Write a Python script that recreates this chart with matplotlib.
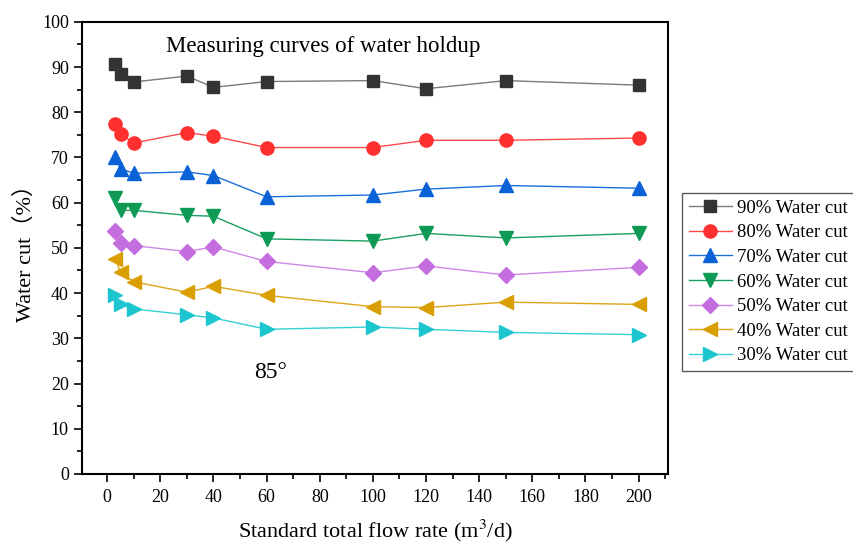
import matplotlib
matplotlib.use("Agg")
import matplotlib.pyplot as plt
from matplotlib.ticker import MultipleLocator

# Data

flow_rate = [3, 5, 10, 30, 40, 60, 100, 120, 150, 200]

cut_90 = [90.7, 88.5, 86.7, 88.0, 85.5, 86.8, 87.0, 85.2, 87.0, 86.0]
cut_80 = [77.3, 75.2, 73.2, 75.5, 74.7, 72.2, 72.2, 73.8, 73.8, 74.3]
cut_70 = [70.0, 67.5, 66.5, 66.8, 66.0, 61.3, 61.7, 63.0, 63.8, 63.2]
cut_60 = [61.0, 58.3, 58.3, 57.2, 57.0, 52.0, 51.5, 53.2, 52.2, 53.2]
cut_50 = [53.8, 51.0, 50.5, 49.2, 50.2, 47.0, 44.5, 46.0, 44.0, 45.7]
cut_40 = [47.5, 44.7, 42.5, 40.2, 41.5, 39.5, 37.0, 36.8, 38.0, 37.5]
cut_30 = [39.5, 37.5, 36.5, 35.2, 34.5, 32.0, 32.5, 32.0, 31.3, 30.8]

labels = ["90% Water cut", "80% Water cut", "70% Water cut", "60% Water cut",
          "50% Water cut", "40% Water cut", "30% Water cut"]

# Style

plt.rcParams["font.family"] = ["Liberation Serif", "Noto Sans CJK SC"]
plt.rcParams["mathtext.fontset"] = "stix"

series = [cut_90, cut_80, cut_70, cut_60, cut_50, cut_40, cut_30]
line_colors = ["#7a7a7a", "#ff4a4a", "#1a6fd8", "#17a062", "#cf86e6", "#dca51a", "#35cfd4"]
marker_colors = ["#333333", "#ff3030", "#0a62d6", "#0e9a55", "#c46ddf", "#d99e00", "#1dc6cf"]
markers = ["s", "o", "^", "v", "D", "<", ">"]
sizes = [8.5, 9.5, 9.5, 9.5, 8.5, 9.5, 9.5]

fig = plt.figure(figsize=(8.54, 5.46), dpi=100)
ax = fig.add_axes([0.096, 0.132, 0.686, 0.828])

for y, lc, mc, m, s, lab in zip(series, line_colors, marker_colors, markers, sizes, labels):
    ax.plot(
        flow_rate,
        y,
        color=lc,
        linewidth=1,
        marker=m,
        markersize=s,
        markerfacecolor=mc,
        markeredgecolor=mc,
        label=lab
    )

ax.set_xlim(-9.5, 211)
ax.set_ylim(0, 100)

ax.xaxis.set_major_locator(MultipleLocator(20))
ax.xaxis.set_minor_locator(MultipleLocator(10))
ax.yaxis.set_major_locator(MultipleLocator(10))
ax.yaxis.set_minor_locator(MultipleLocator(5))

ax.tick_params(which="major", direction="out", length=6, width=1.2, labelsize=13)
ax.tick_params(which="minor", direction="out", length=3.5, width=1.2)
ax.tick_params(axis="x", which="major", pad=5)

for sp in ax.spines.values():
    sp.set_linewidth(1.5)

ax.set_xlabel("Standard total flow rate (m$^3$/d)", fontsize=16, labelpad=8)
ax.set_ylabel("Water cut（%）", fontsize=16, labelpad=4)

ax.text(0.143, 0.945, "Measuring curves of water holdup", transform=ax.transAxes,
        fontsize=16.5, va="center", ha="left")
ax.text(0.293, 0.225, "85°", transform=ax.transAxes,
        fontsize=17, va="center", ha="left")

fig.legend(
    loc="upper left",
    bbox_to_anchor=(682 / 854, 1 - 193 / 546),
    fontsize=13.5,
    frameon=True,
    fancybox=False,
    edgecolor="#333333",
    handlelength=2.3,
    labelspacing=0.4,
    borderpad=0.35,
    handletextpad=0.3,
    borderaxespad=0
)

plt.savefig("out.png", dpi=100)
plt.close()
